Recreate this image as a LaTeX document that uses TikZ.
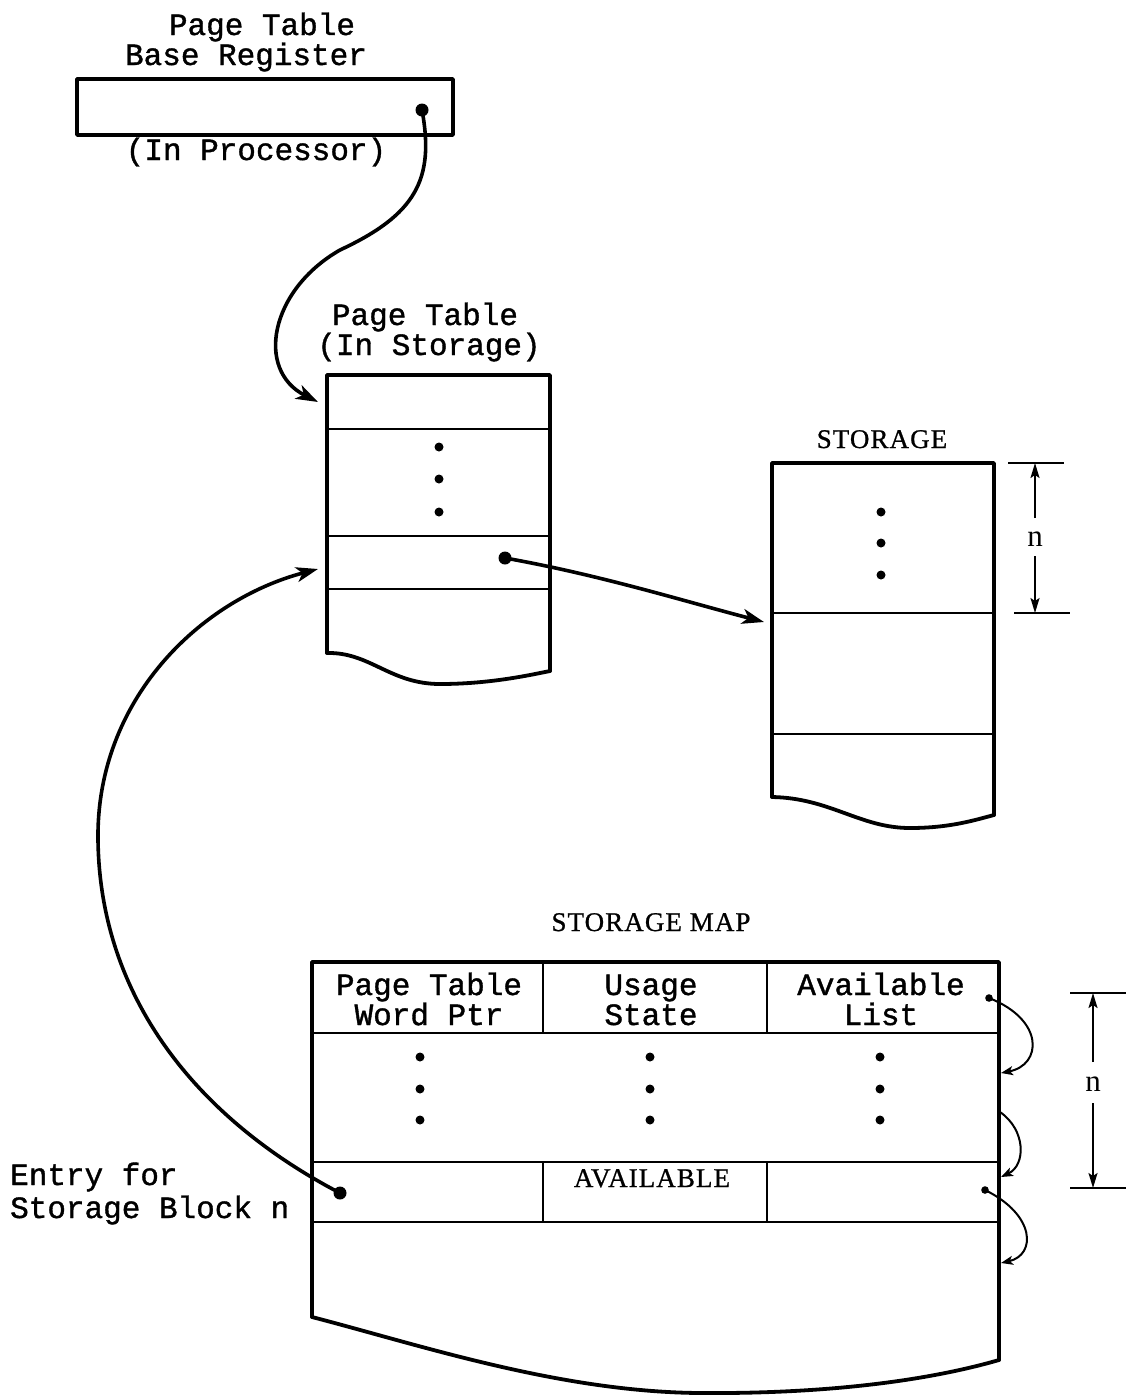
\documentclass[tikz,border=0pt]{standalone}
\usepackage{fontspec}
\setmainfont{Liberation Serif}
\newfontfamily\monofam[FakeBold=1.2]{Liberation Mono}
\newfontfamily\capsfam[LetterSpace=4,FakeBold=0.8]{Liberation Serif}
\usetikzlibrary{arrows.meta}
\begin{document}
\begin{tikzpicture}[x=1pt,y=-1pt,
  frame/.style={line width=3.8pt,line cap=round,line join=round},
  rowline/.style={line width=2pt},
  conn/.style={line width=3.6pt,-{Stealth[length=22pt,width=15pt,inset=6pt]}},
  smallconn/.style={line width=2pt,-{Stealth[length=12pt,width=9pt,inset=3pt]}},
  dimline/.style={line width=1.8pt},
  dimarrow/.style={line width=1.8pt,-{Stealth[length=15pt,width=9pt,inset=3pt]}},
  mtext/.style={font=\monofam\fontsize{31}{34}\selectfont,inner sep=0pt,anchor=base},
  ctext/.style={font=\capsfam\fontsize{27}{30}\selectfont,inner sep=0pt,anchor=base},
  ntext/.style={font=\fontsize{31}{34}\selectfont,inner sep=0pt,anchor=base},
  bigdot/.style={fill=black,draw=none},
]
\useasboundingbox[fill=white] (0,0) rectangle (1126,1395);

% ---------- Page Table Base Register ----------
\node[mtext] (pbrA) at (262,35) {Page Table};
\node[mtext] (pbrB) at (246,65) {Base Register};
\draw[frame] (77,79) rectangle (453,135);
\node[mtext] (pbrC) at (256,160) {(In Processor)};
\coordinate (pbrdot) at (422,110);
\fill[bigdot] (pbrdot) circle (6.5);

% ---------- Page Table (In Storage) ----------
\node[mtext] (ptA) at (425,325) {Page Table};
\node[mtext] (ptB) at (429,355) {(In Storage)};
\draw[frame] (327,653) -- (327,375) -- (550,375) -- (550,671);
\draw[frame] (327,653) .. controls (370,652) and (390,684) .. (440,684)
               .. controls (490,684) and (530,675) .. (550,671);
\draw[rowline] (327,429) -- (550,429);
\draw[rowline] (327,536) -- (550,536);
\draw[rowline] (327,589) -- (550,589);
\foreach \yy in {447,479,512} \fill (439,\yy) circle (4.5);
\coordinate (ptdot) at (505,558);
\fill[bigdot] (ptdot) circle (6.5);
\coordinate (ptin1) at (318,402);
\coordinate (ptin2) at (318,569);

% ---------- STORAGE ----------
\node[ctext] (stlabel) at (882,448) {STORAGE};
\draw[frame] (772,797) -- (772,463) -- (994,463) -- (994,815);
\draw[frame] (772,797) .. controls (830,798) and (860,828) .. (910,828)
               .. controls (950,828) and (975,820) .. (994,815);
\draw[rowline] (772,613) -- (994,613);
\draw[rowline] (772,734) -- (994,734);
\foreach \yy in {512,543,575} \fill (881,\yy) circle (4.5);
\coordinate (stin) at (764,622);

% dimension n (storage)
\coordinate (d1t) at (1035,463);
\coordinate (d1b) at (1035,613);
\draw[dimline] (1008,463) -- (1064,463);
\draw[dimline] (1014,613) -- (1070,613);
\node[ntext] (d1n) at (1035,546) {n};
\draw[dimarrow] (1035,518) -- (d1t);
\draw[dimarrow] (1035,556) -- (d1b);

% ---------- STORAGE MAP ----------
\node[ctext] (smlabel) at (651,931) {STORAGE MAP};
\draw[frame] (312,1317) -- (312,962) -- (999,962) -- (999,1360);
\draw[frame] (312,1317) .. controls (420,1345) and (560,1392) .. (700,1393)
                .. controls (830,1394) and (930,1380) .. (999,1360);
\draw[rowline] (312,1033) -- (999,1033);
\draw[rowline] (312,1162) -- (999,1162);
\draw[rowline] (312,1222) -- (999,1222);
\draw[rowline] (543,962) -- (543,1033);
\draw[rowline] (767,962) -- (767,1033);
\draw[rowline] (543,1162) -- (543,1222);
\draw[rowline] (767,1162) -- (767,1222);
\node[mtext] (hA1) at (429,995) {Page Table};
\node[mtext] (hA2) at (429,1025) {Word Ptr};
\node[mtext] (hB1) at (651,995) {Usage};
\node[mtext] (hB2) at (651,1025) {State};
\node[mtext] (hC1) at (881,995) {Available};
\node[mtext] (hC2) at (881,1025) {List};
\foreach \xx in {420,650,880}
  \foreach \yy in {1057,1089,1120} \fill (\xx,\yy) circle (4.5);
\node[ctext] (avail) at (652,1187) {AVAILABLE};
\coordinate (smdot) at (340,1193);
\fill[bigdot] (smdot) circle (6.5);
\coordinate (ldot1) at (989,998);
\fill[bigdot] (ldot1) circle (3.8);
\coordinate (ldot2) at (985,1190);
\fill[bigdot] (ldot2) circle (3.8);
\coordinate (lin1) at (1001,1073);
\coordinate (lout2) at (1000,1112);
\coordinate (lin2) at (1001,1177);
\coordinate (lin3) at (1001,1263);

% dimension n (storage map)
\coordinate (d2t) at (1093,993);
\coordinate (d2b) at (1093,1188);
\draw[dimline] (1070,993) -- (1126,993);
\draw[dimline] (1070,1188) -- (1126,1188);
\node[ntext] (d2n) at (1093,1091) {n};
\draw[dimarrow] (1093,1062) -- (d2t);
\draw[dimarrow] (1093,1103) -- (d2b);

% Entry label
\node[mtext,anchor=base west] (entA) at (10,1185) {Entry for};
\node[mtext,anchor=base west] (entB) at (10,1218) {Storage Block n};

% ---------- connectors ----------
\draw[conn] (pbrdot) .. controls (435,180) and (415,215) .. (340,250)
                     .. controls (270,290) and (255,370) .. (ptin1);
\draw[conn] (ptdot) .. controls (600,575) and (680,600) .. (stin);
\draw[conn] (smdot) .. controls (200,1120) and (100,1000) .. (98,840)
                    .. controls (96,700) and (200,600) .. (ptin2);
\draw[smallconn] (ldot1) .. controls (1045,1020) and (1042,1065) .. (lin1);
\draw[smallconn] (lout2) .. controls (1026,1130) and (1026,1165) .. (lin2);
\draw[smallconn] (ldot2) .. controls (1036,1215) and (1036,1255) .. (lin3);
\end{tikzpicture}
\end{document}
